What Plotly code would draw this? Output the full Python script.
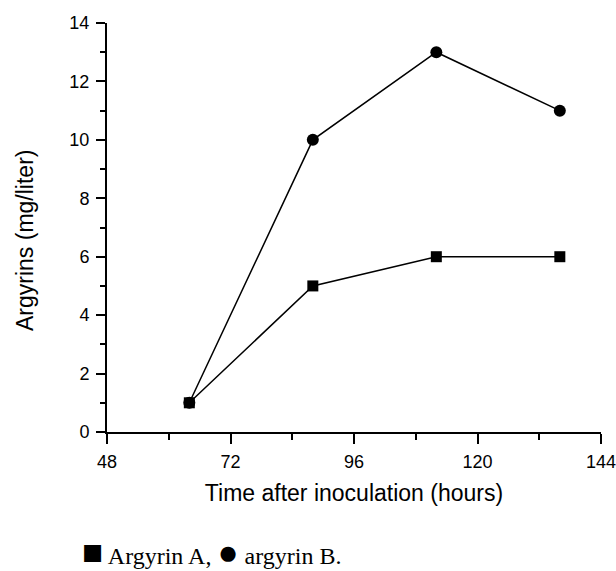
import plotly.graph_objects as go

hours = [64, 88, 112, 136]
argyrin_a = [1, 5, 6, 6]
argyrin_b = [1, 10, 13, 11]
x_ticks = [48, 72, 96, 120, 144]
y_ticks = [0, 2, 4, 6, 8, 10, 12, 14]

fig = go.Figure()
fig.add_trace(go.Scatter(x=hours, y=argyrin_b, mode="lines+markers", name="argyrin B",
                         line=dict(color="black", width=1.5),
                         marker=dict(symbol="circle", size=12, color="black")))
fig.add_trace(go.Scatter(x=hours, y=argyrin_a, mode="lines+markers", name="Argyrin A",
                         line=dict(color="black", width=1.5),
                         marker=dict(symbol="square", size=11, color="black")))

sans = "Liberation Sans, Arial, sans-serif"
tick_font = dict(family=sans, size=18, color="black")
title_font = dict(family=sans, size=23, color="black")
W, L, R = 616, 107, 15
H, T, B = 571, 23, 139
pw, ph = W - L - R, H - T - B
fig.update_layout(
    width=W, height=H,
    margin=dict(l=L, r=R, t=T, b=B),
    paper_bgcolor="white", plot_bgcolor="white",
    showlegend=False,
    font=tick_font,
    xaxis=dict(range=[48, 144], tickvals=x_ticks, ticks="outside", ticklen=10, tickwidth=2,
               tickcolor="black", showline=True, linewidth=2, linecolor="black",
               showgrid=False, zeroline=False, tickfont=tick_font, automargin=False,
               ticklabelstandoff=2, ticklabeloverflow="allow",
               minor=dict(dtick=12, tick0=48, ticks="outside", ticklen=6, tickwidth=2, tickcolor="black", showgrid=False),
               title=dict(text="Time after inoculation (hours)", font=title_font, standoff=14)),
    yaxis=dict(range=[0, 14], tickvals=y_ticks, ticks="outside", ticklen=9, tickwidth=2,
               tickcolor="black", showline=True, linewidth=2, linecolor="black",
               showgrid=False, zeroline=False, tickfont=tick_font, automargin=False,
               ticklabelstandoff=3, ticklabeloverflow="allow",
               minor=dict(dtick=1, tick0=0, ticks="outside", ticklen=5, tickwidth=2, tickcolor="black", showgrid=False)),
)

fig.add_annotation(text="Argyrins (mg/liter)", textangle=-90, xref="paper", yref="paper",
                   x=(25 - L) / pw, y=(H - B - 241) / ph, xanchor="center", yanchor="middle",
                   showarrow=False, font=title_font)

fig.add_annotation(text="<span style='font-size:35px'>■</span> Argyrin A, <span style='font-size:35px'>●</span> argyrin B.",
                   xref="paper", yref="paper",
                   x=(80 - L) / pw, y=-(552 - (H - B)) / ph, xanchor="left", yanchor="middle",
                   showarrow=False,
                   font=dict(family="Liberation Serif, Times New Roman, serif", size=24, color="black"))

fig.write_html("out.html")
